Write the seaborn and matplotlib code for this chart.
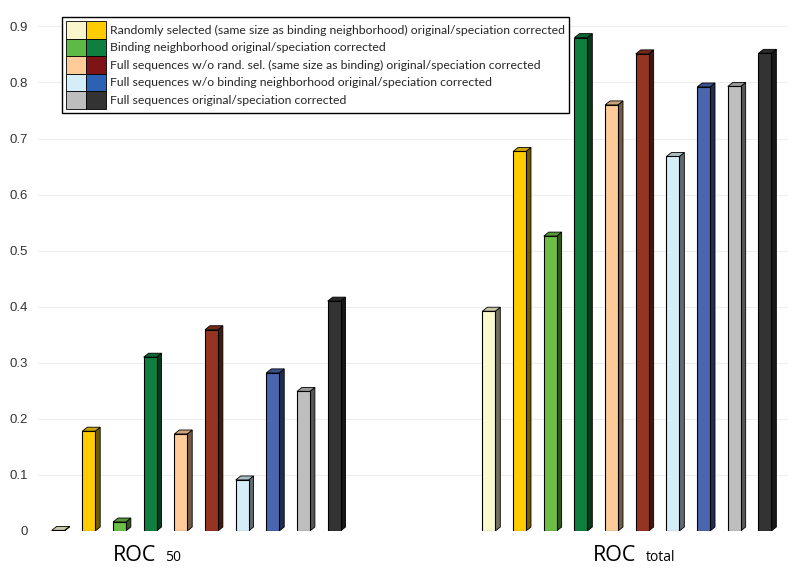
import numpy as np
import pandas as pd
import matplotlib.pyplot as plt
import seaborn as sns
from matplotlib.patches import Patch, Polygon
from matplotlib.legend_handler import HandlerTuple

# Data
metrics = ["ROC50", "ROC total"]
series = [
    "Random original", "Random corrected",
    "Binding original", "Binding corrected",
    "Full w/o rand original", "Full w/o rand corrected",
    "Full w/o binding original", "Full w/o binding corrected",
    "Full original", "Full corrected",
]
roc50 = [0.001, 0.178, 0.016, 0.310, 0.173, 0.359, 0.091, 0.282, 0.249, 0.410]
roc_total = [0.392, 0.677, 0.526, 0.880, 0.760, 0.851, 0.668, 0.792, 0.793, 0.852]

bar_colors = ["#FAFACF", "#FFCC00", "#6DBE45", "#0F7F3F", "#FFCC99",
              "#953521", "#D5EDF8", "#4966AF", "#BEBEBE", "#333333"]
legend_colors = ["#FAF6CC", "#FFCC00", "#5FB946", "#0F7F3F", "#FFCC99",
                 "#7E1416", "#D5EDF8", "#2C62B4", "#BEBEBE", "#333333"]
legend_labels = [
    "Randomly selected (same size as binding neighborhood) original/speciation corrected",
    "Binding neighborhood original/speciation corrected",
    "Full sequences w/o rand. sel. (same size as binding) original/speciation corrected",
    "Full sequences w/o binding neighborhood original/speciation corrected",
    "Full sequences original/speciation corrected",
]
yticks = [0, 0.1, 0.2, 0.3, 0.4, 0.5, 0.6, 0.7, 0.8, 0.9]
ytick_labels = ["0", "0.1", "0.2", "0.3", "0.4", "0.5", "0.6", "0.7", "0.8", "0.9"]

df = pd.DataFrame({
    "metric": np.repeat(metrics, len(series)),
    "series": series * len(metrics),
    "value": roc50 + roc_total,
})

sns.set_theme(style="white")
plt.rcParams["font.family"] = ["Liberation Sans", "DejaVu Sans"]

fig = plt.figure(figsize=(8, 5.8), dpi=100)
ax = fig.add_axes([0.0475, 0.0845, 0.9375, 0.8825])

sns.barplot(data=df, x="metric", y="value", hue="series", order=metrics,
            hue_order=series, palette=dict(zip(series, bar_colors)),
            saturation=1, width=0.712, gap=0.58, edgecolor="black",
            linewidth=0.8, legend=False, ax=ax, zorder=3)

ax.set_xlim(-0.367, 1.374)
ax.set_ylim(0, 0.913)

# fake 3D depth: side and top faces built from each seaborn bar
depth = np.array([5.0, 4.0])
inv = ax.transData.inverted()
for bar in list(ax.patches):
    x0, w, h = bar.get_x(), bar.get_width(), bar.get_height()
    face = np.array(bar.get_facecolor()[:3])
    bl, br, tr, tl = ax.transData.transform([(x0, 0), (x0 + w, 0), (x0 + w, h), (x0, h)])
    side = inv.transform([br, br + depth, tr + depth, tr])
    top = inv.transform([tl, tr, tr + depth, tl + depth])
    ax.add_patch(Polygon(side, closed=True, fc=face * 0.45, ec="black", lw=0.6, zorder=2.9))
    ax.add_patch(Polygon(top, closed=True, fc=face * 0.8, ec="black", lw=0.6, zorder=2.9))

ax.set_yticks(yticks)
ax.set_yticklabels(ytick_labels)
ax.set_xticks([])
ax.set_xlabel("")
ax.set_ylabel("")
ax.tick_params(axis="y", length=0, pad=7, labelsize=9.5, labelcolor="#333333")
ax.yaxis.grid(True, color="#eeeeee", lw=0.8)
ax.set_axisbelow(True)
for s in ax.spines.values():
    s.set_visible(False)

# group labels with small subscripts
for xpos, sub in [(-0.093, "50"), (0.021 + 1, "total")]:
    ax.text(xpos, -0.043, "ROC", ha="right", va="center", fontsize=15.5,
            family="Open Sans", color="black", clip_on=False)
    ax.text(xpos + 0.022, -0.048, sub, ha="left", va="center", fontsize=10,
            family="Open Sans", color="black", clip_on=False)

handles = [(Patch(fc=legend_colors[2 * i], ec="black", lw=0.6),
            Patch(fc=legend_colors[2 * i + 1], ec="black", lw=0.6))
           for i in range(len(legend_labels))]
leg = ax.legend(handles, legend_labels,
                handler_map={tuple: HandlerTuple(ndivide=None, pad=0)},
                loc="upper left", bbox_to_anchor=(62 / 800, 1 - 17 / 580),
                bbox_transform=fig.transFigure, borderaxespad=0,
                frameon=True, fancybox=False, framealpha=1, edgecolor="black",
                prop={"family": "Lato", "size": 8.8},
                handlelength=3.22, handleheight=1.82, labelspacing=0,
                handletextpad=0.35, borderpad=0.35)
leg.get_frame().set_linewidth(1.0)
leg.set_zorder(5)

fig.savefig("out.png", dpi=100)
plt.close(fig)
